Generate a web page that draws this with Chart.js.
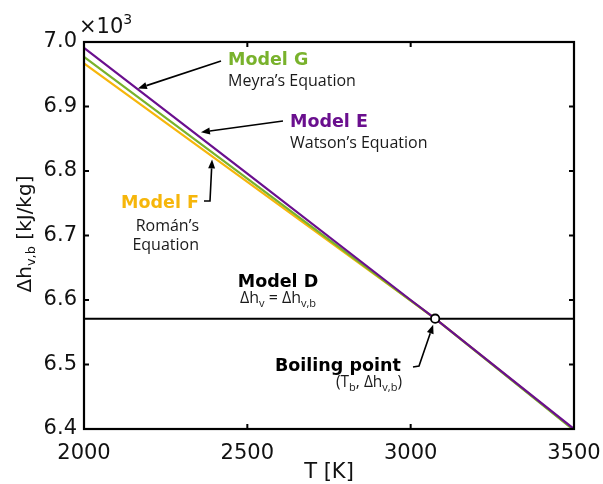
<!DOCTYPE html>
<html>
<head>
<meta charset="utf-8">
<script src="https://cdn.jsdelivr.net/npm/chart.js@4/dist/chart.umd.min.js"></script>
<style>
  html, body { margin: 0; padding: 0; background: #fff; }
  #wrap { width: 603px; height: 484px; position: relative; }
</style>
</head>
<body>
<div id="wrap"><canvas id="chart"></canvas></div>
<script>
// Temperature grid [K] and latent heat of vaporization [kJ/kg]
const temperatures = [2000, 2500, 3000, 3075, 3500];
const modelE = [6991, 6796, 6600, 6571, 6400]; // Watson's equation
const modelG = [6977, 6788, 6599, 6571, 6398]; // Meyra's equation
const modelF = [6967, 6783, 6599, 6571, 6399]; // Román's equation
const boilingT = 3075;   // T_b [K]
const boilingH = 6571;   // Δh_v,b [kJ/kg]
const xTickValues = [2000, 2500, 3000, 3500];
const yTickValues = [6400, 6500, 6600, 6700, 6800, 6900, 7000];

const PURPLE = '#6A0F8E';
const GREEN = '#79B22C';
const YELLOW = '#F6B60B';

const toPoints = (ys) => temperatures.map((t, i) => ({ x: t, y: ys[i] }));

// Draw a run of text pieces with optional subscripts / superscripts
function drawRuns(ctx, runs, x, y, base, small, align) {
  const widthOf = (r) => {
    ctx.font = r.sub || r.sup ? small : base;
    return ctx.measureText(r.t).width;
  };
  const total = runs.reduce((s, r) => s + widthOf(r), 0);
  let cx = align === 'center' ? x - total / 2 : align === 'right' ? x - total : x;
  ctx.textAlign = 'left';
  ctx.textBaseline = 'alphabetic';
  runs.forEach(r => {
    ctx.font = r.sub || r.sup ? small : base;
    const dy = r.sub ? 4 : r.sup ? -9 : 0;
    ctx.fillText(r.t, cx, y + dy);
    cx += ctx.measureText(r.t).width;
  });
}

// Plain text label
function label(ctx, text, x, y, font, color, align) {
  ctx.font = font;
  ctx.fillStyle = color;
  ctx.textBaseline = 'alphabetic';
  ctx.textAlign = align;
  ctx.fillText(text, x, y);
}

// Polyline with a filled arrow head at its last point
function arrow(ctx, pts) {
  ctx.save();
  ctx.strokeStyle = '#000';
  ctx.fillStyle = '#000';
  ctx.lineWidth = 1.6;
  const n = pts.length;
  const [tx, ty] = pts[n - 1];
  const [px, py] = pts[n - 2];
  const ang = Math.atan2(ty - py, tx - px);
  const L = 9, W = 3.5;
  const bx = tx - L * Math.cos(ang), by = ty - L * Math.sin(ang);
  ctx.beginPath();
  ctx.moveTo(pts[0][0], pts[0][1]);
  for (let i = 1; i < n - 1; i++) ctx.lineTo(pts[i][0], pts[i][1]);
  ctx.lineTo(bx, by);
  ctx.stroke();
  ctx.beginPath();
  ctx.moveTo(tx, ty);
  ctx.lineTo(bx - W * Math.sin(ang), by + W * Math.cos(ang));
  ctx.lineTo(bx + W * Math.sin(ang), by - W * Math.cos(ang));
  ctx.closePath();
  ctx.fill();
  ctx.restore();
}

const framePlugin = {
  id: 'frame',
  afterDraw(chart) {
    const { ctx, chartArea: a, scales: { x, y } } = chart;
    ctx.save();
    // inward ticks on all four sides
    ctx.strokeStyle = '#000';
    ctx.lineWidth = 2;
    const tl = 5;
    ctx.beginPath();
    xTickValues.forEach(v => {
      const px = x.getPixelForValue(v);
      ctx.moveTo(px, a.bottom); ctx.lineTo(px, a.bottom - tl);
      ctx.moveTo(px, a.top); ctx.lineTo(px, a.top + tl);
    });
    yTickValues.forEach(v => {
      const py = y.getPixelForValue(v);
      ctx.moveTo(a.left, py); ctx.lineTo(a.left + tl, py);
      ctx.moveTo(a.right, py); ctx.lineTo(a.right - tl, py);
    });
    ctx.stroke();
    // frame
    ctx.lineWidth = 2.2;
    ctx.strokeRect(a.left, a.top, a.right - a.left, a.bottom - a.top);

    // axis titles
    ctx.fillStyle = '#111';
    ctx.font = '21px "DejaVu Sans"';
    ctx.textAlign = 'center';
    ctx.textBaseline = 'alphabetic';
    ctx.fillText('T [K]', (a.left + a.right) / 2, 478);

    ctx.save();
    ctx.translate(31, 234);
    ctx.rotate(-Math.PI / 2);
    drawRuns(ctx, [{ t: 'Δh' }, { t: 'v,b', sub: true }, { t: ' [kJ/kg]' }],
      0, 0, '20px "DejaVu Sans"', '13px "DejaVu Sans"', 'center');
    ctx.restore();

    // axis multiplier
    drawRuns(ctx, [{ t: '×10' }, { t: '3', sup: true }], 79, 33,
      '21px "DejaVu Sans"', '14px "DejaVu Sans"', 'left');

    // annotations
    const bold = 'bold 17.5px "DejaVu Sans"';
    const reg = '16px "Open Sans"';
    const ink = '#1a1a1a';
    label(ctx, 'Model G', 228, 65, bold, GREEN, 'left');
    label(ctx, 'Meyra’s Equation', 228, 86, reg, ink, 'left');
    label(ctx, 'Model E', 290, 127, bold, PURPLE, 'left');
    label(ctx, 'Watson’s Equation', 290, 148, reg, ink, 'left');
    label(ctx, 'Model F', 199, 208, bold, YELLOW, 'right');
    label(ctx, 'Román’s', 199, 231, reg, ink, 'right');
    label(ctx, 'Equation', 199, 250, reg, ink, 'right');
    label(ctx, 'Model D', 278, 287, bold, '#000', 'center');
    label(ctx, 'Boiling point', 275, 371, 'bold 17.5px "DejaVu Sans"', '#000', 'left');

    ctx.fillStyle = ink;
    drawRuns(ctx, [{ t: 'Δh' }, { t: 'v', sub: true }, { t: ' = Δh' }, { t: 'v,b', sub: true }],
      278, 303, '16px "Open Sans"', '11px "Open Sans"', 'center');
    drawRuns(ctx, [{ t: '(T' }, { t: 'b', sub: true }, { t: ', Δh' }, { t: 'v,b', sub: true }, { t: ')' }],
      336, 387, '15.5px "Open Sans"', '11px "Open Sans"', 'left');

    // arrows pointing at the curves
    const gx = x.getPixelForValue(2165), gy = y.getPixelForValue(6928);
    arrow(ctx, [[221, 61], [gx, gy]]);
    const ex = x.getPixelForValue(2358), ey = y.getPixelForValue(6860);
    arrow(ctx, [[283, 121], [ex, ey]]);
    const fx = x.getPixelForValue(2392), fy = y.getPixelForValue(6818);
    arrow(ctx, [[204, 201], [210, 201], [fx, fy]]);
    const bpx = x.getPixelForValue(boilingT), bpy = y.getPixelForValue(boilingH);
    arrow(ctx, [[413, 367], [419, 366], [bpx - 2, bpy + 6]]);
    ctx.restore();
  }
};

const chart = new Chart(document.getElementById('chart'), {
  type: 'line',
  data: {
    datasets: [
      {
        label: 'Boiling point', type: 'scatter',
        data: [{ x: boilingT, y: boilingH }],
        pointRadius: 4.2, pointBackgroundColor: '#fff', pointBorderColor: '#000',
        pointBorderWidth: 1.8, order: 0
      },
      {
        label: 'Model D', data: [{ x: 2000, y: boilingH }, { x: 3500, y: boilingH }],
        borderColor: '#000', borderWidth: 2, pointRadius: 0, order: 1
      },
      { label: 'Model E', data: toPoints(modelE), borderColor: PURPLE, borderWidth: 2.2, pointRadius: 0, order: 2 },
      { label: 'Model G', data: toPoints(modelG), borderColor: GREEN, borderWidth: 2.2, pointRadius: 0, order: 3 },
      { label: 'Model F', data: toPoints(modelF), borderColor: YELLOW, borderWidth: 2.2, pointRadius: 0, order: 4 }
    ]
  },
  options: {
    responsive: true,
    maintainAspectRatio: false,
    animation: false,
    layout: { padding: { top: 42, right: 29, left: 0, bottom: 0 } },
    plugins: { legend: { display: false }, tooltip: { enabled: false } },
    elements: { line: { tension: 0 } },
    scales: {
      x: {
        type: 'linear', min: 2000, max: 3500,
        afterBuildTicks: (s) => { s.ticks = xTickValues.map(v => ({ value: v })); },
        afterFit: (s) => { s.height = 55; s.paddingLeft = 0; s.paddingRight = 0; },
        grid: { display: false, drawTicks: false },
        border: { display: false },
        ticks: {
          padding: 12, color: '#111', font: { family: 'DejaVu Sans', size: 21 }, maxRotation: 0,
          callback: (v) => String(v)
        }
      },
      y: {
        type: 'linear', min: 6400, max: 7000,
        afterBuildTicks: (s) => { s.ticks = yTickValues.map(v => ({ value: v })); },
        afterFit: (s) => { s.width = 84; s.paddingTop = 0; s.paddingBottom = 0; },
        grid: { display: false, drawTicks: false },
        border: { display: false },
        ticks: {
          padding: 7, color: '#111', font: { family: 'DejaVu Sans', size: 21 },
          callback: (v) => (v / 1000).toFixed(1)
        }
      }
    }
  },
  plugins: [framePlugin]
});
</script>
</body>
</html>
